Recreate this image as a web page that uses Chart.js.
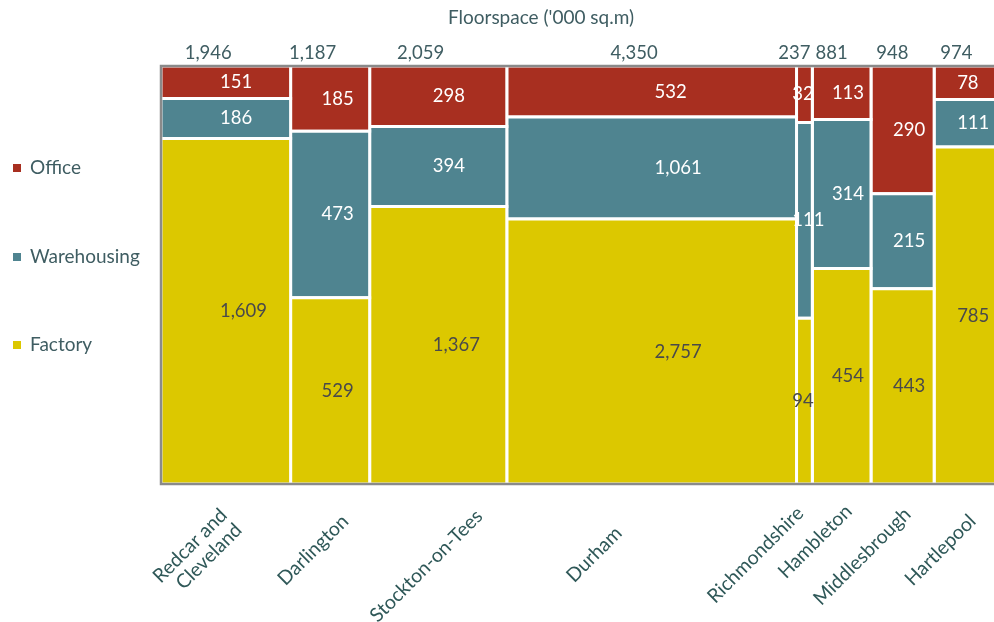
<!DOCTYPE html>
<html>
<head>
<meta charset="utf-8">
<script src="https://cdn.jsdelivr.net/npm/chart.js@4.4.1/dist/chart.umd.min.js"></script>
<style>
  html, body { margin: 0; padding: 0; background: #ffffff; overflow: hidden; }
  #wrap { position: relative; width: 1010px; height: 622px; }
</style>
</head>
<body>
<div id="wrap"><canvas id="mekko"></canvas></div>
<script>
// Floorspace by district and use class ('000 sq.m)
const categories = [['Redcar and', 'Cleveland'], 'Darlington', 'Stockton-on-Tees', 'Durham',
  'Richmondshire', 'Hambleton', 'Middlesbrough', 'Hartlepool'];
const office      = [151, 185, 298, 532, 32, 113, 290, 78];
const warehousing = [186, 473, 394, 1061, 111, 314, 215, 111];
const factory     = [1609, 529, 1367, 2757, 94, 454, 443, 785];
const seriesNames = ['Office', 'Warehousing', 'Factory'];

const totals = categories.map((_, i) => office[i] + warehousing[i] + factory[i]);
const starts = [];
let running = 0;
totals.forEach(t => { starts.push(running); running += t; });
const grandTotal = running;

// stacked bottom-up: Factory, Warehousing, Office
const layers = [
  { name: 'Factory',     values: factory,     color: '#DCC800', text: '#4a4a4a' },
  { name: 'Warehousing', values: warehousing, color: '#4F8490', text: '#ffffff' },
  { name: 'Office',      values: office,      color: '#A82F20', text: '#ffffff' }
];
const legendColors = { Office: '#A82F20', Warehousing: '#4F8490', Factory: '#DCC800' };

const datasets = [];
const cells = [];
categories.forEach((_, i) => {
  let base = 0;
  layers.forEach(layer => {
    const h = layer.values[i] / totals[i] * 100;
    const x0 = starts[i], x1 = starts[i] + totals[i], y0 = base, y1 = base + h;
    datasets.push({
      label: layer.name,
      data: [{ x: x0, y: y0 }, { x: x1, y: y0 }, { x: x1, y: y1 }, { x: x0, y: y1 }, { x: x0, y: y0 }],
      backgroundColor: layer.color,
      borderColor: '#ffffff',
      borderWidth: 3,
      fill: 'shape',
      showLine: true,
      pointRadius: 0,
      tension: 0
    });
    cells.push({ x0, x1, y0, y1, value: layer.values[i], color: layer.text });
    base = y1;
  });
});

// per-label nudges for the rotated district names [dx from column centre, baseline y]
const tickShift = [[-2, 512], [15, 518], [41, 513], [-33, 530], [-4, 510], [7, 508], [5, 511], [6, 518]];

const FONT = 'Lato, "Open Sans", sans-serif';
const fmt = v => v.toLocaleString('en-US');

const mekkoText = {
  id: 'mekkoText',
  afterDraw(chart) {
    const { ctx, chartArea: a, scales: { x, y } } = chart;
    ctx.save();

    // plot frame
    ctx.strokeStyle = '#8a8a8a';
    ctx.lineWidth = 2.5;
    ctx.beginPath();
    ctx.moveTo(a.right + 5, a.top);
    ctx.lineTo(a.left, a.top);
    ctx.lineTo(a.left, a.bottom);
    ctx.lineTo(a.right + 5, a.bottom);
    ctx.stroke();

    // values inside each block
    ctx.font = '18.5px ' + FONT;
    ctx.textAlign = 'left';
    ctx.textBaseline = 'middle';
    cells.forEach(c => {
      const px0 = x.getPixelForValue(c.x0);
      const w = x.getPixelForValue(c.x1) - px0;
      const py = y.getPixelForValue((c.y0 + c.y1) / 2);
      ctx.fillStyle = c.color;
      ctx.fillText(fmt(c.value), px0 + 0.555 * w - 13, py);
    });

    // column totals
    ctx.fillStyle = '#3f5d62';
    ctx.textAlign = 'right';
    totals.forEach((t, i) => {
      const cx = x.getPixelForValue(starts[i] + t / 2);
      ctx.fillText(fmt(t), cx + 6, 53);
    });

    // title
    ctx.font = '19px ' + FONT;
    ctx.textAlign = 'center';
    ctx.fillText("Floorspace ('000 sq.m)", 541, 18);

    // legend
    ctx.textAlign = 'left';
    ctx.font = '19px ' + FONT;
    const legendY = [168, 257, 345];
    seriesNames.forEach((name, k) => {
      ctx.fillStyle = legendColors[name];
      ctx.fillRect(13, legendY[k] - 4, 8, 8);
      ctx.fillStyle = '#3f5d62';
      ctx.fillText(name, 30, legendY[k]);
    });

    // rotated district names
    ctx.font = '19.5px ' + FONT;
    ctx.fillStyle = '#2f5858';
    ctx.textAlign = 'right';
    categories.forEach((label, i) => {
      const cx = x.getPixelForValue(starts[i] + totals[i] / 2);
      const [dx, ty] = tickShift[i];
      const lines = Array.isArray(label) ? label : [label];
      ctx.save();
      ctx.translate(cx + dx, ty);
      ctx.rotate(-Math.PI / 4);
      lines.forEach((ln, j) => ctx.fillText(ln, 0, j * 21));
      ctx.restore();
    });

    ctx.restore();
  }
};

new Chart(document.getElementById('mekko'), {
  type: 'scatter',
  data: { datasets },
  options: {
    responsive: true,
    maintainAspectRatio: false,
    animation: false,
    events: [],
    layout: { padding: { left: 161, top: 66, right: 11, bottom: 138 } },
    scales: {
      x: { type: 'linear', min: 0, max: grandTotal, display: false },
      y: { type: 'linear', min: 0, max: 100, display: false }
    },
    plugins: { legend: { display: false }, tooltip: { enabled: false } }
  },
  plugins: [mekkoText]
});
</script>
</body>
</html>
